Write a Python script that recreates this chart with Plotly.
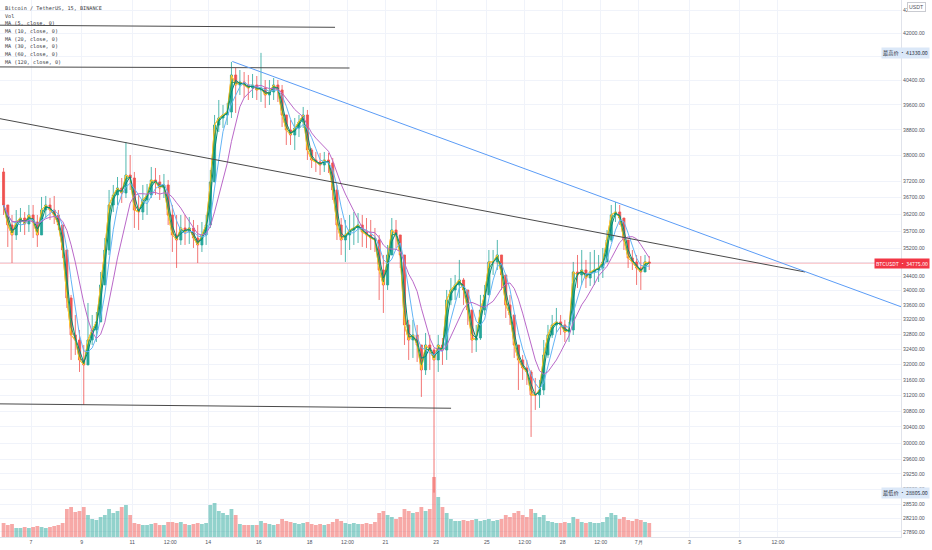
import numpy as np
import pandas as pd
import plotly.graph_objects as go

# ---------------- data (4-hour bars) ----------------
symbol_title = "Bitcoin / TetherUS, 15, BINANCE"
bar_start = "2021-06-05 20:00"
bar_hours = 4
open_first = 37480

close = [
    36478, 35884, 35591, 35972, 36090, 35913, 36180, 35972, 35591, 36328,
    36478, 36328, 36180, 35884, 35155, 33797, 32785, 32651, 32120, 31988,
    32651, 32920, 33138, 34160, 35155, 36478, 36779, 36991, 36839, 37387,
    37295, 36328, 36269, 36628, 36779, 37234, 37173, 36991, 37082, 36180,
    35591, 35445, 35796, 35679, 35796, 35503, 35300, 35591, 35884, 37173,
    38954, 39179, 39276, 39372, 40587, 40255, 40354, 40255, 40156, 40255,
    40090, 40156, 39926, 40024, 40255, 40090, 39276, 38794, 38636, 38858,
    39050, 39276, 38163, 37851, 37789, 37696, 37851, 37758, 36930, 35884,
    35445, 35591, 35737, 35796, 35884, 35679, 35591, 35503, 35445, 34582,
    34160, 35011, 35737, 35591, 35011, 33056, 32651, 32785, 32517, 31857,
    32517, 32384, 32120, 32517, 32384, 33741, 34019, 34160, 34300, 34019,
    33465, 32651, 32705, 33465, 33880, 34811, 34811, 35011, 34441, 33603,
    33328, 32517, 32120, 31910, 31805, 31210, 31210, 31338, 32252, 32785,
    33056, 33138, 33056, 32866, 32920, 34526, 34441, 34582, 34356, 34526,
    34582, 34639, 34811, 35445, 36180, 36269, 36090, 35445, 34925, 34811,
    34639, 34526, 34811, 34775]

high = [
    37603, 36478, 36180, 36328, 36388, 36269, 36478, 36478, 36180, 36719,
    36749, 36688, 36749, 36328, 35884, 35155, 33880, 33328, 32920, 32517,
    33658, 33328, 33410, 34526, 35503, 36930, 37082, 37326, 37295, 38414,
    38007, 37480, 36779, 37082, 37112, 37634, 37603, 37387, 37418, 37234,
    36478, 36180, 36180, 36180, 36120, 36031, 35884, 35972, 36180, 37541,
    39276, 39762, 39600, 39665, 41023, 40820, 40753, 40686, 40587, 40620,
    40553, 41330, 40420, 40420, 40487, 40420, 40255, 39276, 39114, 39179,
    39276, 39535, 39437, 38226, 38101, 38070, 38101, 38070, 37913, 37082,
    36090, 36031, 36180, 36269, 36239, 36180, 36090, 36031, 35796, 35591,
    35011, 35300, 36090, 36031, 35591, 35011, 33192, 33192, 33056, 32517,
    32839, 32785, 32437, 32785, 32705, 34019, 34356, 34441, 34868, 34356,
    34019, 33192, 33056, 33880, 34160, 35155, 35155, 35445, 34925, 34300,
    33880, 33328, 32517, 32252, 32120, 31857, 31649, 31597, 32651, 33056,
    33328, 33520, 33328, 33192, 33138, 34811, 35011, 35155, 34868, 35097,
    35155, 35011, 35213, 35737, 36478, 36568, 36478, 36090, 35445, 35155,
    35011, 34982, 35011, 34982]

low = [
    36180, 35242, 34782, 35445, 35679, 35591, 35679, 35503, 35242, 35679,
    36090, 36031, 35913, 35737, 34925, 33520, 32120, 32252, 31805, 30955,
    31988, 32517, 32598, 33192, 34160, 35011, 36269, 36478, 36538, 36688,
    36930, 35796, 35737, 36031, 36180, 36688, 36779, 36628, 36688, 35884,
    35097, 34639, 35300, 35300, 35329, 35213, 34782, 35097, 35300, 35796,
    37234, 38731, 38858, 38954, 39179, 39340, 39926, 39828, 39762, 39828,
    39762, 39697, 39502, 39600, 39762, 39697, 38890, 38320, 38320, 38163,
    38572, 38858, 37851, 37603, 37480, 37387, 37480, 37449, 36628, 35445,
    35011, 34811, 35155, 35300, 35358, 35242, 35213, 35155, 35097, 33741,
    33383, 34019, 35155, 35213, 34639, 32517, 32120, 32173, 32067, 31159,
    31727, 31857, 28805, 31805, 31988, 32120, 33603, 33741, 33797, 33603,
    33056, 32305, 32331, 32651, 33328, 34019, 34441, 34582, 34019, 33246,
    33056, 32173, 31338, 31597, 31467, 30152, 30828, 30879, 31210, 32173,
    32705, 32839, 32785, 32598, 32598, 32785, 34075, 34160, 34075, 34131,
    34160, 34244, 34356, 34811, 35387, 35972, 35884, 35155, 34639, 34582,
    34160, 34019, 34526, 34582]

volume = [
    7000, 6000, 6500, 4500, 4500, 5000, 4500, 5000, 5500, 5000,
    4500, 5000, 5500, 6000, 7000, 14000, 15000, 12500, 13000, 15000,
    11000, 9000, 8500, 10000, 11000, 14000, 12000, 13000, 15000, 16000,
    11000, 7000, 6500, 6000, 6000, 6500, 7000, 6000, 6000, 7500,
    7500, 7000, 7500, 6500, 6000, 6500, 7000, 6500, 7000, 16000,
    17000, 13000, 12000, 11000, 14000, 11000, 6500, 6000, 6000, 6000,
    6000, 8000, 7000, 6500, 6000, 6500, 9000, 8000, 7500, 7000,
    6500, 7000, 7500, 6500, 6000, 6500, 6000, 6500, 7500, 9000,
    8000, 7000, 6500, 7000, 6500, 6500, 7000, 6500, 7500, 12000,
    13000, 11000, 10000, 9000, 10000, 14000, 13000, 12000, 12500, 15000,
    13000, 14000, 30000, 20000, 15000, 12000, 9000, 8000, 8000, 8500,
    8000, 8500, 9000, 8000, 8500, 9000, 8000, 8500, 9000, 11000,
    10000, 12000, 13000, 11000, 10000, 14000, 12000, 10000, 11000, 8000,
    7500, 7000, 7000, 7500, 7000, 10000, 9000, 7500, 7000, 7500,
    7000, 7000, 7500, 10000, 12000, 11000, 9000, 10000, 8500, 8000,
    9000, 8500, 7500, 7000]

ma_periods = [5, 10, 20, 30, 60, 120]
ma_colors = ["#ff6d00", "#fdd835", "#43a047", "#00897b", "#64b5f6", "#ba68c8"]

last_price = 34775
high_mark = 41330
low_mark = 28805

# drawn trend lines: (start time, start price, end time, end price, colour)
trend_lines = [
    ("2021-06-05 18:00", 42280, "2021-06-19 00:10", 42207, "#4a4a4a"),
    ("2021-06-05 18:00", 40856, "2021-06-19 13:55", 40820, "#4a4a4a"),
    ("2021-06-05 18:00", 39160, "2021-07-07 13:40", 34526, "#4a4a4a"),
    ("2021-06-14 22:48", 41040, "2021-07-11 09:00", 33550, "#5b9cf6"),
    ("2021-06-05 18:00", 30982, "2021-06-23 14:10", 30871, "#4a4a4a"),
]

y_tick_vals = [42800, 42000, 41200, 40400, 39600, 38800, 38000, 37200, 36700, 36200,
               35700, 35200, 34800, 34400, 34000, 33600, 33200, 32800, 32400, 32000,
               31600, 31200, 30800, 30400, 30000, 29600, 29250, 28880, 28530, 28210, 27890]
y_ticks_hidden = [41200, 34800]   # covered by the price labels in the original

x_tick_vals = ["2021-06-07", "2021-06-09", "2021-06-11", "2021-06-12 12:00", "2021-06-14",
               "2021-06-16", "2021-06-18", "2021-06-19 12:00", "2021-06-21", "2021-06-23",
               "2021-06-25", "2021-06-26 12:00", "2021-06-28", "2021-06-29 12:00",
               "2021-07-01", "2021-07-03", "2021-07-05", "2021-07-06 12:00"]
x_tick_text = ["7", "9", "11", "12:00", "14", "16", "18", "12:00", "21", "23", "25",
               "12:00", "28", "12:00", "7月", "3", "5", "12:00"]

x_range = ["2021-06-05 18:37", "2021-07-11 08:38"]
y_range = [27774, 43164]

# ---------------- derived ----------------
n = len(close)
close_a = np.array(close, dtype=float)
open_a = np.array([open_first] + close[:-1], dtype=float)
high_a = np.maximum(np.array(high, dtype=float), np.maximum(open_a, close_a))
low_a = np.minimum(np.array(low, dtype=float), np.minimum(open_a, close_a))
t0 = pd.Timestamp(bar_start)
centers = t0 + pd.to_timedelta(np.arange(n) * bar_hours + bar_hours / 2, unit="h")


def sma(vals, period):
    nb = period * 15 / (bar_hours * 60)
    if nb <= 1:
        return list(vals)
    full = int(np.floor(nb))
    frac = nb - full
    w = [1.0] * full + ([frac] if frac > 1e-9 else [])
    out = []
    for i in range(len(vals)):
        ww = w[: i + 1]
        seg = [vals[i - j] for j in range(len(ww))]
        out.append(sum(a * b for a, b in zip(seg, ww)) / sum(ww))
    return out


UP = "#26a69a"
DN = "#ef5350"

fig = go.Figure()

# volume
vol_colors = ["rgba(38,166,154,0.5)" if c >= o else "rgba(239,83,80,0.5)"
              for o, c in zip(open_a, close_a)]
fig.add_trace(go.Bar(x=centers, y=volume, yaxis="y2", marker=dict(color=vol_colors, line=dict(width=0)),
                     width=bar_hours * 3600 * 1000 * 0.9, showlegend=False, hoverinfo="skip"))

# current price line
fig.add_trace(go.Scatter(x=x_range, y=[last_price, last_price], mode="lines",
                         line=dict(color="rgba(242,54,69,0.35)", width=1), showlegend=False, hoverinfo="skip"))

# candles
fig.add_trace(go.Candlestick(x=centers, open=open_a, high=high_a, low=low_a, close=close_a,
                             increasing=dict(line=dict(color=UP, width=0.8), fillcolor=UP),
                             decreasing=dict(line=dict(color=DN, width=0.8), fillcolor=DN),
                             whiskerwidth=0, showlegend=False, hoverinfo="skip"))

# moving averages
for p, col in zip(ma_periods, ma_colors):
    fig.add_trace(go.Scatter(x=centers, y=sma(close, p), mode="lines",
                             line=dict(color=col, width=1), showlegend=False, hoverinfo="skip"))

# trend lines
for xs, ys, xe, ye, col in trend_lines:
    fig.add_trace(go.Scatter(x=[xs, xe], y=[ys, ye], mode="lines",
                             line=dict(color=col, width=1), showlegend=False, hoverinfo="skip"))

AX_FONT = dict(family="Liberation Sans", size=5.2, color="#50535e")
GRID = "#f0f3fa"

fig.update_layout(
    width=932, height=550,
    margin=dict(l=0, r=31, t=0, b=13),
    paper_bgcolor="white", plot_bgcolor="white",
    showlegend=False,
    xaxis=dict(type="date", range=x_range, tickvals=x_tick_vals, ticktext=x_tick_text,
               tickfont=AX_FONT, showgrid=True, gridcolor=GRID, gridwidth=1,
               showline=True, linecolor="#e0e3eb", linewidth=1, ticks="", zeroline=False,
               rangeslider=dict(visible=False), automargin=False, fixedrange=True),
    yaxis=dict(type="log", side="right", range=[np.log10(y_range[0]), np.log10(y_range[1])],
               tickvals=y_tick_vals,
               ticktext=["" if v in y_ticks_hidden else f"{v:.2f}" for v in y_tick_vals],
               tickfont=AX_FONT, showgrid=True, gridcolor=GRID, gridwidth=1,
               showline=True, linecolor="#e0e3eb", linewidth=1, ticks="", zeroline=False,
               automargin=False, fixedrange=True),
    yaxis2=dict(overlaying="y", range=[0, 268500], visible=False, fixedrange=True),
)

annotations = []
PLOT_W = 901.0
PLOT_H = 537.0


def px_x(x):
    return x / PLOT_W


def px_y(y):
    return 1 - y / PLOT_H


legend_lines = [symbol_title, "Vol"] + [f"MA ({p}, close, 0)" for p in ma_periods]
for i, txt in enumerate(legend_lines):
    annotations.append(dict(x=px_x(3), y=px_y(8 + i * 7.7), xref="paper", yref="paper",
                            text=txt, showarrow=False, xanchor="left", yanchor="middle",
                            font=dict(family="DejaVu Sans Mono", size=5.2, color="#3b3d45")))

annotations.append(dict(x=px_x(916), y=px_y(7), xref="paper", yref="paper", text="USDT",
                        showarrow=False, xanchor="center", yanchor="middle",
                        font=dict(family="Liberation Sans", size=5.2, color="#50535e"),
                        bgcolor="white", bordercolor="#c9cbd1", borderwidth=1, borderpad=1))


def price_label(price, name, bg, fg):
    return dict(x=px_x(930), y=np.log10(price), xref="paper", yref="y",
                text=f"{name} · {price:.2f}", showarrow=False, xanchor="right", yanchor="middle",
                font=dict(family="Noto Sans CJK SC", size=5.2, color=fg),
                bgcolor=bg, borderpad=1)


annotations.append(price_label(high_mark, "最高价", "#dbe8f8", "#2a2e39"))
annotations.append(price_label(last_price, "BTCUSDT", "#f23645", "white"))
annotations.append(price_label(low_mark, "最低价", "#dbe8f8", "#2a2e39"))

fig.update_layout(annotations=annotations)

fig.write_html("out.html", config={"displayModeBar": False},
               post_script="document.body.style.margin='0px';document.body.style.overflow='hidden';")
